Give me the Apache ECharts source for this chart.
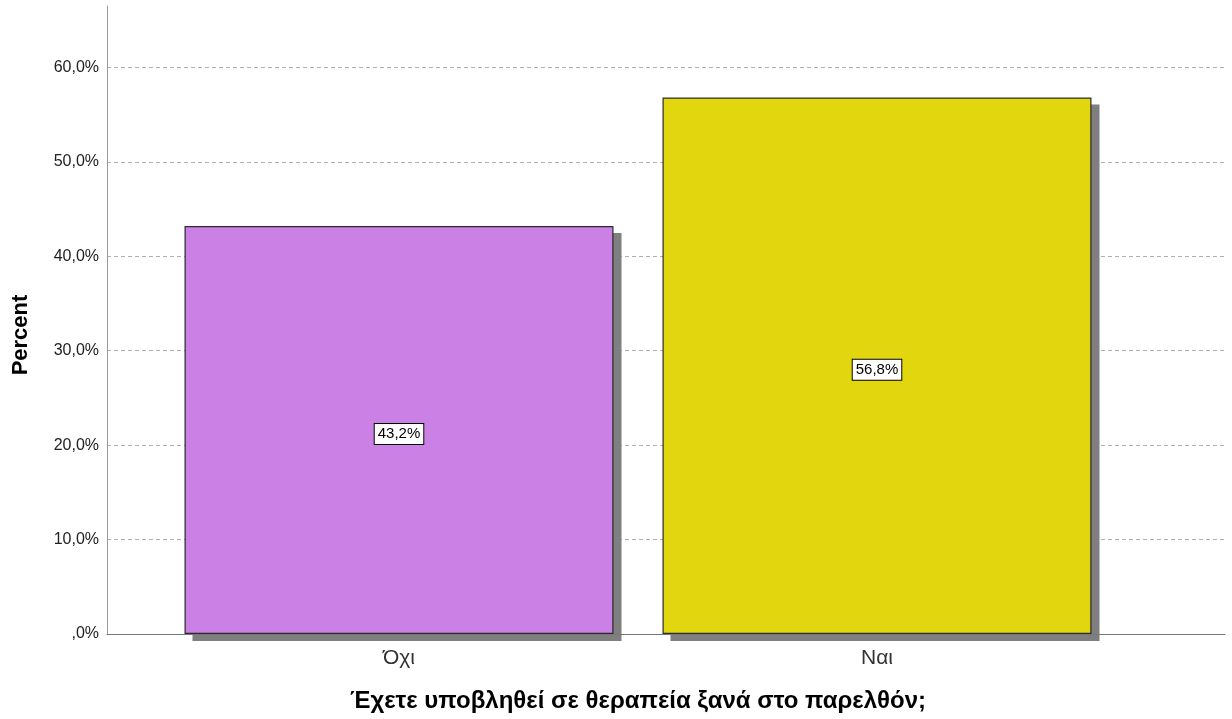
<!DOCTYPE html>
<html><head><meta charset="utf-8">
<script src="https://cdn.jsdelivr.net/npm/echarts@6/dist/echarts.min.js"></script>
<style>html,body{margin:0;padding:0;background:#fff}#c{width:1232px;height:719px}</style>
</head><body><div id="c"></div>
<script>
const categories = ['Όχι', 'Ναι'];
const values = [43.2, 56.8];
const barColors = ['#CB80E6', '#E2D70E'];
const yTicks = [0, 10, 20, 30, 40, 50, 60];
const xTitle = 'Έχετε υποβληθεί σε θεραπεία ξανά στο παρελθόν;';
const yTitle = 'Percent';

const fmt = v => (v === 0 ? ',0%' : v.toFixed(1).replace('.', ',') + '%');
const FONT = '"Liberation Sans", Arial, sans-serif';
const YMAX = 66.5;
const chart = echarts.init(document.getElementById('c'), null, {renderer: 'canvas'});
chart.setOption({
  animation: false,
  backgroundColor: '#fff',
  grid: [
    {left: 107, right: 7, top: 6, bottom: 85},
    {left: 160, right: 116, top: 6, bottom: 85},
    {left: 168, right: 108, top: 13, bottom: 78}
  ],
  xAxis: [
    {gridIndex: 0, type: 'category', data: categories, axisLabel: {show: false}, axisTick: {show: false},
     axisLine: {lineStyle: {color: '#777', width: 1}}, z: 5},
    {gridIndex: 1, type: 'category', data: categories, axisLine: {show: false}, axisTick: {show: false},
     axisLabel: {fontFamily: FONT, fontSize: 21, color: '#333', margin: 14},
     name: xTitle, nameLocation: 'middle', nameGap: 55,
     nameTextStyle: {fontFamily: FONT, fontSize: 24, fontWeight: 'bold', color: '#000'}},
    {gridIndex: 2, type: 'category', data: categories, show: false}
  ],
  yAxis: [
    {gridIndex: 0, type: 'value', min: 0, max: YMAX, interval: 10,
     axisLine: {show: true, lineStyle: {color: '#999', width: 1}}, axisTick: {show: false},
     axisLabel: {fontFamily: FONT, fontSize: 16, color: '#222', margin: 8,
       formatter: v => (yTicks.indexOf(v) >= 0 ? fmt(v) : '')},
     splitLine: {show: true, showMaxLine: false, showMinLine: false, lineStyle: {color: '#b0b0b0', type: [4, 3], width: 1}},
     name: yTitle, nameLocation: 'middle', nameGap: 75, nameRotate: 90,
     nameTextStyle: {fontFamily: FONT, fontSize: 22, fontWeight: 'bold', color: '#000', padding: [0, 30, 0, 0]}},
    {gridIndex: 1, type: 'value', min: 0, max: YMAX, show: false, splitLine: {show: false}},
    {gridIndex: 2, type: 'value', min: 0, max: YMAX, show: false, splitLine: {show: false}}
  ],
  series: [{
    type: 'bar', xAxisIndex: 2, yAxisIndex: 2, barWidth: 429, z: 1, silent: true,
    data: values, itemStyle: {color: '#7f7f7f'}
  }, {
    type: 'bar', xAxisIndex: 1, yAxisIndex: 1, barWidth: 429, z: 2,
    data: values.map((v, i) => ({value: v, itemStyle: {color: barColors[i]}})),
    itemStyle: {borderColor: '#2a2a2a', borderWidth: 1.2},
    label: {show: true, position: 'inside', offset: [0, 4], formatter: p => fmt(p.value),
      fontFamily: FONT, fontSize: 15, color: '#000', backgroundColor: '#fff',
      borderColor: '#000', borderWidth: 1, padding: [3, 3, 2, 3]}
  }]
});
</script></body></html>
